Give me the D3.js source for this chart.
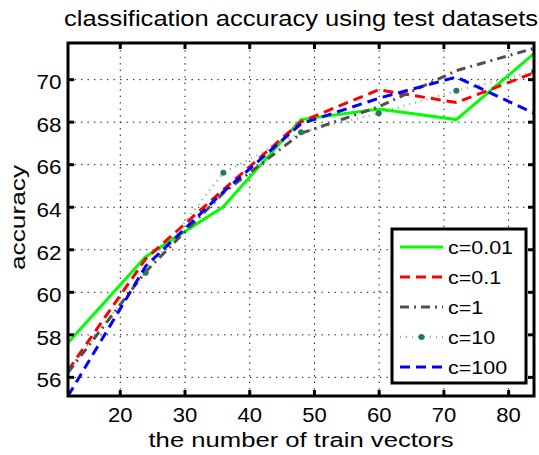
<!DOCTYPE html>
<html>
<head>
<meta charset="utf-8">
<script src="https://cdn.jsdelivr.net/npm/d3@7"></script>
<style>
  body { margin: 0; background: #fff; }
  svg text { font-family: "Liberation Sans", Arial, sans-serif; fill: #000; }
</style>
</head>
<body>
<svg id="chart" width="539" height="455"></svg>
<script>
// number of train vectors on x, accuracy per c value
const trainVectors = [12, 24, 36, 48, 60, 72, 84];
const accC001 = [57.6, 61.65, 64.0, 68.1, 68.6, 68.1, 71.2];
const accC01  = [56.3, 61.55, 64.8, 68.0, 69.5, 68.9, 70.3];
const accC1   = [56.2, 60.95, 64.65, 67.45, 68.7, 70.4, 71.45];
const accC10  = [56.35, 60.9, 65.6, 67.5, 68.4, 69.45, 70.35];
const accC100 = [55.1, 61.2, 64.7, 67.9, 69.1, 70.1, 68.4];

const xTicks = [20, 30, 40, 50, 60, 70, 80];
const yTicks = [56, 58, 60, 62, 64, 66, 68, 70];
const seriesNames = ["c=0.01", "c=0.1", "c=1", "c=10", "c=100"];

const titleText = "classification accuracy using test datasets";
const xLabel = "the number of train vectors";
const yLabel = "accuracy";

// styles per series (kept separate from the values)
const styles = [
  { color: "#00ff00", dash: null,        width: 3 },
  { color: "#ff0000", dash: "10,6",      width: 3 },
  { color: "#505050", dash: "9,5,2,5",   width: 3 },
  { color: "#2e8060", dash: "1,5",       width: 2.5, opacity: 0.6, marker: "#237a57" },
  { color: "#0000ff", dash: "10,6",      width: 3 }
];

const values = [accC001, accC01, accC1, accC10, accC100];
const series = seriesNames.map((name, i) => ({
  name,
  style: styles[i],
  points: trainVectors.map((x, j) => ({ x, y: values[i][j] }))
}));

const svg = d3.select("#chart");
const mLeft = 68, mRight = 534, mTop = 43, mBottom = 396;

const x = d3.scaleLinear().domain([12, 84]).range([mLeft, mRight]);
const y = d3.scaleLinear().domain([55.1, 71.7]).range([mBottom, mTop]);

// the source font runs wider than Liberation Sans: stretch glyphs a little
function stretch(sel, factor) {
  sel.each(function() {
    const w = this.getComputedTextLength();
    d3.select(this).attr("textLength", w * factor).attr("lengthAdjust", "spacingAndGlyphs");
  });
}

// dotted grid
svg.append("g")
  .attr("transform", `translate(0,${mBottom})`)
  .call(d3.axisBottom(x).tickValues(xTicks).tickSize(-(mBottom - mTop)).tickFormat(""))
  .call(g => g.select(".domain").remove())
  .selectAll("line")
  .attr("stroke", "#000").attr("stroke-width", 1).attr("stroke-dasharray", "1.3,5.2");

svg.append("g")
  .attr("transform", `translate(${mLeft},0)`)
  .call(d3.axisLeft(y).tickValues(yTicks).tickSize(-(mRight - mLeft)).tickFormat(""))
  .call(g => g.select(".domain").remove())
  .selectAll("line")
  .attr("stroke", "#000").attr("stroke-width", 1).attr("stroke-dasharray", "1.3,5.2");

// lines, clipped to the axes box
svg.append("clipPath").attr("id", "plotClip")
  .append("rect").attr("x", mLeft).attr("y", mTop)
  .attr("width", mRight - mLeft).attr("height", mBottom - mTop);

const plot = svg.append("g").attr("clip-path", "url(#plotClip)");
const line = d3.line().x(d => x(d.x)).y(d => y(d.y));

series.forEach(s => {
  plot.append("path")
    .datum(s.points)
    .attr("fill", "none")
    .attr("stroke", s.style.color)
    .attr("stroke-width", s.style.width)
    .attr("stroke-opacity", s.style.opacity || 1)
    .attr("stroke-dasharray", s.style.dash)
    .attr("d", line);
  if (s.style.marker) {
    plot.selectAll(null)
      .data(s.points)
      .enter().append("circle")
      .attr("cx", d => x(d.x))
      .attr("cy", d => y(d.y))
      .attr("r", 3)
      .attr("fill", s.style.marker);
  }
});

// axes: labelled bottom/left, tick-only top/right
const tickFont = 19.5;
const tickLen = 6;

svg.append("g")
  .attr("transform", `translate(0,${mBottom})`)
  .call(d3.axisBottom(x).tickValues(xTicks).tickSize(-tickLen).tickPadding(11.7))
  .call(g => g.select(".domain").remove())
  .call(g => g.selectAll("line").attr("stroke-width", 3))
  .call(g => g.selectAll("text").attr("font-size", tickFont).attr("font-family", null))
  .call(g => stretch(g.selectAll("text"), 1.13));

svg.append("g")
  .attr("transform", `translate(${mLeft},0)`)
  .call(d3.axisLeft(y).tickValues(yTicks).tickSize(-tickLen).tickPadding(6.5))
  .call(g => g.select(".domain").remove())
  .call(g => g.selectAll("line").attr("stroke-width", 3))
  .call(g => g.selectAll("text").attr("font-size", tickFont).attr("font-family", null).attr("y", 3.5))
  .call(g => stretch(g.selectAll("text"), 1.15));

svg.append("g")
  .attr("transform", `translate(0,${mTop})`)
  .call(d3.axisTop(x).tickValues(xTicks).tickSize(-tickLen).tickFormat(""))
  .call(g => g.select(".domain").remove())
  .call(g => g.selectAll("line").attr("stroke-width", 3));

svg.append("g")
  .attr("transform", `translate(${mRight},0)`)
  .call(d3.axisRight(y).tickValues(yTicks).tickSize(-tickLen).tickFormat(""))
  .call(g => g.select(".domain").remove())
  .call(g => g.selectAll("line").attr("stroke-width", 3));

// box
svg.append("rect")
  .attr("x", mLeft).attr("y", mTop)
  .attr("width", mRight - mLeft).attr("height", mBottom - mTop)
  .attr("fill", "none").attr("stroke", "#000").attr("stroke-width", 3);

// titles, centred on the axes box
const midX = (mLeft + mRight) / 2;

svg.append("text")
  .attr("x", midX).attr("y", 26)
  .attr("text-anchor", "middle")
  .attr("font-size", 22.5)
  .attr("textLength", 474).attr("lengthAdjust", "spacingAndGlyphs")
  .text(titleText);

svg.append("text")
  .attr("x", midX).attr("y", 447)
  .attr("text-anchor", "middle")
  .attr("font-size", 20.5)
  .attr("textLength", 305).attr("lengthAdjust", "spacingAndGlyphs")
  .text(xLabel);

svg.append("text")
  .attr("transform", "translate(25,217.5) rotate(-90)")
  .attr("text-anchor", "middle")
  .attr("font-size", 20.5)
  .attr("textLength", 105).attr("lengthAdjust", "spacingAndGlyphs")
  .text(yLabel);

// legend
const legend = svg.append("g").attr("transform", "translate(392,229)");
legend.append("rect")
  .attr("width", 134).attr("height", 154)
  .attr("fill", "#fff").attr("stroke", "#000").attr("stroke-width", 3);

const rows = legend.selectAll("g.row")
  .data(series)
  .enter().append("g")
  .attr("class", "row")
  .attr("transform", (d, i) => `translate(0,${18 + i * 30})`);

rows.append("line")
  .attr("x1", 8).attr("x2", 51)
  .attr("stroke", d => d.style.color)
  .attr("stroke-width", d => d.style.width)
  .attr("stroke-opacity", d => d.style.opacity || 1)
  .attr("stroke-dasharray", d => d.style.dash);

rows.filter(d => d.style.marker)
  .append("circle")
  .attr("cx", 29.5).attr("r", 3)
  .attr("fill", d => d.style.marker);

rows.append("text")
  .attr("x", 56).attr("dy", "0.35em")
  .attr("font-size", 19)
  .text(d => d.name)
  .call(t => stretch(t, 1.13));
</script>
</body>
</html>
